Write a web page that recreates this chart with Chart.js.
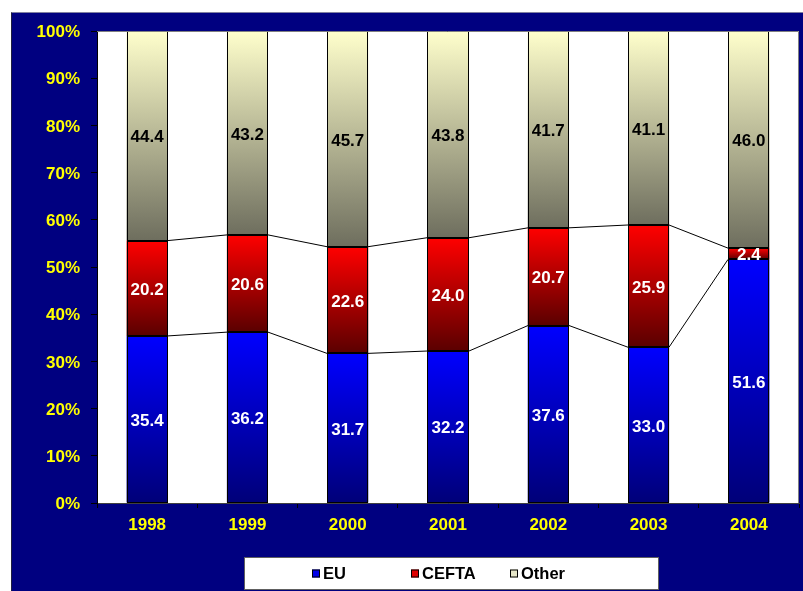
<!DOCTYPE html>
<html>
<head>
<meta charset="utf-8">
<script src="https://cdn.jsdelivr.net/npm/chart.js@4.4.1/dist/chart.umd.min.js"></script>
<style>
  html, body { margin: 0; padding: 0; background: #ffffff; }
  body { width: 803px; height: 591px; position: relative; overflow: hidden; }
  #frame {
    position: absolute; left: 11px; top: 12px; width: 792px; height: 579px;
    background: #000080; border-left: 1px solid #202040; border-top: 1px solid #8080a0;
    box-sizing: border-box;
  }
  #wrap { position: absolute; left: 0; top: 0; width: 791px; height: 578px; }
</style>
</head>
<body>
<div id="frame"><div id="wrap"><canvas id="c"></canvas></div></div>
<script>
// Shares of trade by partner group, percent of total per year
const years = ['1998', '1999', '2000', '2001', '2002', '2003', '2004'];
const euShare = [35.4, 36.2, 31.7, 32.2, 37.6, 33.0, 51.6];
const ceftaShare = [20.2, 20.6, 22.6, 24.0, 20.7, 25.9, 2.4];
const otherShare = [44.4, 43.2, 45.7, 43.8, 41.7, 41.1, 46.0];
const seriesNames = ['EU', 'CEFTA', 'Other'];

const FONT = 'Arial, "Liberation Sans", Helvetica, sans-serif';
const YELLOW = '#ffff00';

// Vertical gradient spanning a single stacked segment
function segmentGradient(topColor, bottomColor) {
  return (ctx) => {
    const chart = ctx.chart;
    const area = chart.chartArea;
    if (!area || ctx.type !== 'data' || !chart.scales.y) return bottomColor;
    const di = ctx.datasetIndex, i = ctx.dataIndex;
    let start = 0;
    for (let k = 0; k < di; k++) start += chart.data.datasets[k].data[i];
    const end = start + chart.data.datasets[di].data[i];
    const yTop = chart.scales.y.getPixelForValue(end);
    const yBot = chart.scales.y.getPixelForValue(start);
    const g = chart.ctx.createLinearGradient(0, yTop, 0, yBot);
    g.addColorStop(0, topColor);
    g.addColorStop(1, bottomColor);
    return g;
  };
}

const swatches = ['#0000e8', '#e00000', '#e6e6c8'];

// White plot area with a grey frame on the top and right
const plotBackground = {
  id: 'plotBackground',
  beforeDraw(chart) {
    const { ctx, chartArea: a } = chart;
    ctx.save();
    ctx.fillStyle = '#ffffff';
    ctx.fillRect(a.left, a.top, a.right - a.left, a.bottom - a.top);
    ctx.restore();
  },
  afterDraw(chart) {
    const { ctx, chartArea: a } = chart;
    ctx.save();
    ctx.strokeStyle = '#808080';
    ctx.lineWidth = 1;
    ctx.beginPath();
    ctx.moveTo(a.left, a.top + 0.5);
    ctx.lineTo(a.right - 0.5, a.top + 0.5);
    ctx.lineTo(a.right - 0.5, a.bottom);
    ctx.stroke();
    ctx.restore();
  }
};

// Crisp segment outlines, series lines joining the lower stacks, value labels
const seriesLinesAndLabels = {
  id: 'seriesLinesAndLabels',
  afterDatasetsDraw(chart) {
    const ctx = chart.ctx;
    ctx.save();
    ctx.strokeStyle = '#000000';
    ctx.lineWidth = 1;
    chart.data.datasets.forEach((ds, d) => {
      chart.getDatasetMeta(d).data.forEach(el => {
        const l = Math.round(el.x - el.width / 2) + 0.5;
        const r = Math.round(el.x + el.width / 2) - 0.5;
        const t = Math.round(el.y) + 0.5;
        const b = Math.round(el.base) - 0.5;
        ctx.strokeRect(l, t, r - l, b - t);
      });
    });
    for (let d = 0; d < 2; d++) {
      const bars = chart.getDatasetMeta(d).data;
      ctx.beginPath();
      for (let j = 0; j < bars.length - 1; j++) {
        const a = bars[j], b = bars[j + 1];
        ctx.moveTo(Math.round(a.x + a.width / 2), a.y);
        ctx.lineTo(Math.round(b.x - b.width / 2), b.y);
      }
      ctx.stroke();
    }
    ctx.font = 'bold 17px ' + FONT;
    ctx.textAlign = 'center';
    ctx.textBaseline = 'middle';
    chart.data.datasets.forEach((ds, d) => {
      const bars = chart.getDatasetMeta(d).data;
      bars.forEach((el, j) => {
        ctx.fillStyle = d === 2 ? '#000000' : '#ffffff';
        ctx.fillText(ds.data[j].toFixed(1), el.x, (el.y + el.base) / 2 + 2);
      });
    });
    ctx.restore();
  }
};

// Boxed legend under the axis
const boxedLegend = {
  id: 'boxedLegend',
  afterDraw(chart) {
    const ctx = chart.ctx;
    const a = chart.chartArea;
    const cx = (a.left + a.right) / 2 + 3;
    const boxL = Math.round(cx - 207.5), boxW = 415, boxT = 544, boxH = 33;
    ctx.save();
    ctx.fillStyle = '#ffffff';
    ctx.fillRect(boxL, boxT, boxW, boxH);
    ctx.strokeStyle = '#606060';
    ctx.lineWidth = 1;
    ctx.strokeRect(boxL + 0.5, boxT + 0.5, boxW - 1, boxH - 1);
    ctx.font = 'bold 16.5px ' + FONT;
    ctx.textBaseline = 'middle';
    ctx.textAlign = 'left';
    const midY = boxT + boxH / 2 + 1;
    chart.data.datasets.forEach((ds, i) => {
      const x = Math.round(cx - 40.5 + (i - 1) * 99);
      ctx.fillStyle = swatches[i];
      ctx.fillRect(x, midY - 5, 8, 8);
      ctx.strokeStyle = '#000000';
      ctx.strokeRect(x + 0.5, midY - 4.5, 7, 7);
      ctx.fillStyle = '#000000';
      ctx.fillText(ds.label, x + 11, midY);
    });
    ctx.restore();
  }
};

new Chart(document.getElementById('c'), {
  type: 'bar',
  data: {
    labels: years,
    datasets: [
      { label: seriesNames[0], data: euShare, backgroundColor: segmentGradient('#0000ff', '#000078') },
      { label: seriesNames[1], data: ceftaShare, backgroundColor: segmentGradient('#ff0000', '#5a0000') },
      { label: seriesNames[2], data: otherShare, backgroundColor: segmentGradient('#ffffcc', '#6e6e5e') }
    ].map(ds => Object.assign(ds, {
      borderWidth: 0,
      barPercentage: 0.41, categoryPercentage: 1.0
    }))
  },
  options: {
    responsive: true,
    maintainAspectRatio: false,
    animation: false,
    layout: { padding: { top: 18, right: 4, bottom: 58, left: 0 } },
    plugins: { legend: { display: false }, tooltip: { enabled: false } },
    scales: {
      x: {
        stacked: true,
        grid: { drawOnChartArea: false, drawTicks: true, tickLength: 5, color: '#000000', offset: true },
        border: { display: true, color: '#404040', width: 1 },
        ticks: { color: YELLOW, font: { family: FONT, size: 17, weight: 'bold' }, padding: 7 },
        afterFit(scale) { scale.height = 30; }
      },
      y: {
        stacked: true,
        min: 0, max: 100,
        grid: { drawOnChartArea: false, drawTicks: true, tickLength: 6, color: '#000000' },
        border: { display: true, color: '#000000', width: 1 },
        ticks: {
          stepSize: 10, color: YELLOW, padding: 11, labelOffset: 1.5,
          font: { family: FONT, size: 17, weight: 'bold' },
          callback: v => v + '%'
        },
        afterFit(scale) {
          scale.width = 85;
          scale.paddingTop = 0;
          scale.paddingBottom = 0;
        }
      }
    }
  },
  plugins: [plotBackground, seriesLinesAndLabels, boxedLegend]
});
</script>
</body>
</html>
